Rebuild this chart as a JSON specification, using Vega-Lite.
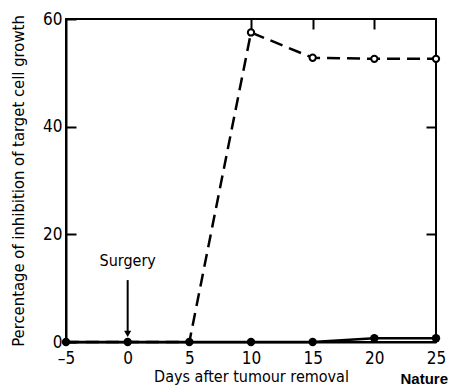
{
  "$schema": "https://vega.github.io/schema/vega-lite/v6.json",
  "autosize": "none",
  "width": 370,
  "height": 323,
  "padding": {"left": 66, "top": 19, "right": 14, "bottom": 49},
  "background": "white",
  "config": {
    "view": {"stroke": "black", "strokeWidth": 2},
    "font": "DejaVu Sans Condensed",
    "axis": {"grid": false, "labelFlush": false, "domainColor": "black", "domainWidth": 2, "tickColor": "black", "tickWidth": 2, "labelColor": "black", "titleColor": "black", "labelFont": "DejaVu Sans Condensed", "titleFont": "DejaVu Sans Condensed", "labelFontSize": 17, "titleFontSize": 16, "titleFontWeight": "normal"}
  },
  "title": {"text": "Nature", "orient": "bottom", "anchor": "end", "frame": "group", "font": "Liberation Sans", "fontWeight": "bold", "fontSize": 15, "color": "black", "offset": -12, "dx": 12},
  "resolve": {"axis": {"x": "independent", "y": "independent"}},
  "datasets": {
    "series": [
      {"day": -5, "pct": 0, "group": "open"},
      {"day": 0, "pct": 0, "group": "open"},
      {"day": 5, "pct": 0, "group": "open"},
      {"day": 10, "pct": 57.5, "group": "open"},
      {"day": 15, "pct": 52.8, "group": "open"},
      {"day": 20, "pct": 52.6, "group": "open"},
      {"day": 25, "pct": 52.6, "group": "open"},
      {"day": -5, "pct": 0, "group": "filled"},
      {"day": 0, "pct": 0, "group": "filled"},
      {"day": 5, "pct": 0, "group": "filled"},
      {"day": 10, "pct": 0, "group": "filled"},
      {"day": 15, "pct": 0, "group": "filled"},
      {"day": 20, "pct": 0.7, "group": "filled"},
      {"day": 25, "pct": 0.7, "group": "filled"}
    ],
    "note": [
      {"day": 0, "top": 11.5, "bottom": 1.5, "label": "Surgery", "textY": 13.5}
    ]
  },
  "layer": [
    {
      "data": {"name": "series"},
      "transform": [{"filter": "datum.group === 'open'"}],
      "mark": {"type": "line", "color": "black", "strokeWidth": 2.5, "strokeDash": [13, 7]},
      "encoding": {
        "x": {"field": "day", "type": "quantitative", "scale": {"domain": [-5, 25], "nice": false}, "axis": {"values": [-5, 0, 5, 10, 15, 20, 25], "labelExpr": "replace(datum.label, '\u2212', '\u2013')", "title": "Days after tumour removal", "tickSize": 0, "labelPadding": 8, "titlePadding": 2}},
        "y": {"field": "pct", "type": "quantitative", "scale": {"domain": [0, 60], "nice": false}, "axis": {"values": [0, 20, 40, 60], "title": "Percentage of inhibition of target cell growth", "tickSize": -10, "labelPadding": 14, "titlePadding": 16, "titleFontSize": 16.5}}
      }
    },
    {
      "data": {"name": "series"},
      "transform": [{"filter": "datum.group === 'open'"}],
      "mark": {"type": "point", "opacity": 0},
      "encoding": {
        "x": {"field": "day", "type": "quantitative", "axis": {"orient": "top", "values": [10, 15, 20], "labels": false, "domain": false, "tickSize": -10, "title": null}},
        "y": {"field": "pct", "type": "quantitative", "axis": {"orient": "right", "values": [20, 40], "labels": false, "domain": false, "tickSize": -10, "title": null}}
      }
    },
    {
      "data": {"name": "series"},
      "transform": [{"filter": "datum.group === 'open' && datum.day >= 10"}],
      "mark": {"type": "point", "shape": "circle", "size": 40, "filled": true, "fill": "white", "stroke": "black", "strokeWidth": 2, "opacity": 1},
      "encoding": {
        "x": {"field": "day", "type": "quantitative", "axis": null},
        "y": {"field": "pct", "type": "quantitative", "axis": null}
      }
    },
    {
      "data": {"name": "series"},
      "transform": [{"filter": "datum.group === 'filled'"}],
      "mark": {"type": "line", "color": "black", "strokeWidth": 2.5},
      "encoding": {
        "x": {"field": "day", "type": "quantitative", "axis": null},
        "y": {"field": "pct", "type": "quantitative", "axis": null}
      }
    },
    {
      "data": {"name": "series"},
      "transform": [{"filter": "datum.group === 'filled'"}],
      "mark": {"type": "point", "shape": "circle", "size": 70, "filled": true, "color": "black", "opacity": 1, "clip": false},
      "encoding": {
        "x": {"field": "day", "type": "quantitative", "axis": null},
        "y": {"field": "pct", "type": "quantitative", "axis": null}
      }
    },
    {
      "data": {"name": "note"},
      "mark": {"type": "rule", "color": "black", "strokeWidth": 2},
      "encoding": {
        "x": {"field": "day", "type": "quantitative", "axis": null},
        "y": {"field": "top", "type": "quantitative", "axis": null},
        "y2": {"field": "bottom"}
      }
    },
    {
      "data": {"name": "note"},
      "mark": {"type": "point", "shape": "triangle-down", "size": 50, "filled": true, "color": "black", "opacity": 1},
      "encoding": {
        "x": {"field": "day", "type": "quantitative", "axis": null},
        "y": {"field": "bottom", "type": "quantitative", "axis": null}
      }
    },
    {
      "data": {"name": "note"},
      "mark": {"type": "text", "fontSize": 16, "color": "black", "baseline": "bottom"},
      "encoding": {
        "x": {"field": "day", "type": "quantitative", "axis": null},
        "y": {"field": "textY", "type": "quantitative", "axis": null},
        "text": {"field": "label"}
      }
    }
  ]
}
